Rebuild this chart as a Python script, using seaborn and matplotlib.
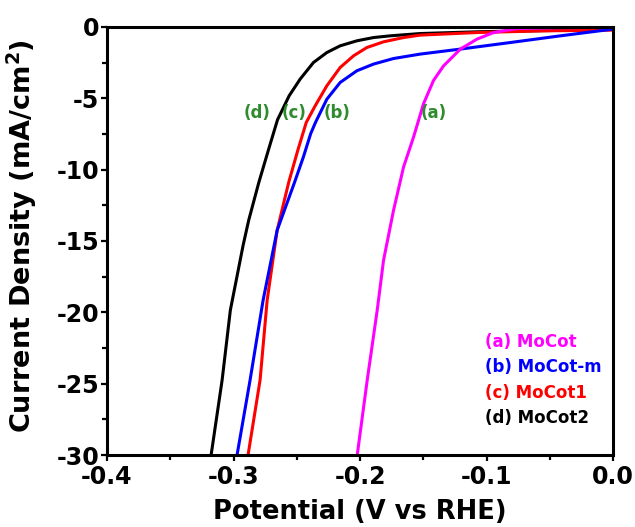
import numpy as np
import pandas as pd
import matplotlib
matplotlib.use('Agg')
import matplotlib.pyplot as plt
from matplotlib.ticker import MultipleLocator
import seaborn as sns

# LSV curves (potential in V vs RHE, current density in mA/cm2)
pot_a = [-0.2022, -0.1943, -0.1864, -0.1814, -0.1735, -0.1656, -0.1577, -0.1498, -0.1419,
         -0.1339, -0.1207, -0.1075, -0.0944, -0.0759, -0.0400, 0.0]
cur_a = [-30.0, -24.75, -19.85, -16.35, -12.85, -9.82, -7.72, -5.38, -3.75,
         -2.72, -1.55, -0.85, -0.39, -0.11, -0.05, -0.02]

pot_b = [-0.2972, -0.2869, -0.2766, -0.2655, -0.2518, -0.2448, -0.2390, -0.2352, -0.2262,
         -0.2157, -0.2025, -0.1893, -0.1735, -0.1524, -0.1207, -0.0812, -0.0416, 0.0]
cur_b = [-30.0, -24.75, -19.15, -14.25, -10.9, -9.12, -7.48, -6.69, -5.06,
         -3.89, -3.07, -2.60, -2.21, -1.90, -1.55, -1.09, -0.62, -0.15]

pot_c = [-0.2885, -0.2790, -0.2734, -0.2655, -0.2564, -0.2492, -0.2425, -0.2354, -0.2262,
         -0.2157, -0.2051, -0.1946, -0.1814, -0.1656, -0.1524, -0.1075, -0.0548, 0.0]
cur_c = [-30.0, -24.75, -19.15, -14.25, -10.9, -8.65, -6.69, -5.52, -4.12,
         -2.84, -2.02, -1.44, -1.04, -0.74, -0.57, -0.39, -0.27, -0.22]

pot_d = [-0.3177, -0.3090, -0.3025, -0.2924, -0.2880, -0.2800, -0.2725, -0.2652, -0.2560,
         -0.2473, -0.2368, -0.2262, -0.2157, -0.2025, -0.1893, -0.1761, -0.1524, -0.1050,
         -0.0500, 0.0]
cur_d = [-30.0, -24.75, -19.85, -15.3, -13.55, -10.9, -8.65, -6.5, -4.82,
         -3.65, -2.49, -1.79, -1.32, -0.97, -0.74, -0.62, -0.46, -0.33,
         -0.25, -0.15]

SAMPLES = ['(a) MoCot', '(b) MoCot-m', '(c) MoCot1', '(d) MoCot2']
COLORS = ['#ff00ff', '#0000ff', '#ff0000', '#000000']
TAGS = ['(a)', '(b)', '(c)', '(d)']
TAG_X = [-0.1415, -0.2182, -0.2522, -0.2814]
TAG_Y = -6.0

frames = []
for name, pot, cur in zip(SAMPLES, [pot_a, pot_b, pot_c, pot_d], [cur_a, cur_b, cur_c, cur_d]):
    frames.append(pd.DataFrame({'Potential': pot, 'Current': cur, 'Sample': name}))
df = pd.concat(frames, ignore_index=True)

sns.set_theme(style='ticks')
plt.rcParams['font.family'] = ['DejaVu Sans']
plt.rcParams['font.weight'] = 'bold'
plt.rcParams['mathtext.default'] = 'bf'
for key in ['text.color', 'axes.labelcolor', 'xtick.color', 'ytick.color', 'axes.edgecolor']:
    plt.rcParams[key] = 'black'

fig = plt.figure(figsize=(6.35, 5.27), dpi=100)
ax = fig.add_axes([0.1685, 0.1366, 0.7969, 0.8122])

# draw d, c, b, a so magenta ends up on top like the reference
order = SAMPLES[::-1]
sns.lineplot(data=df, x='Potential', y='Current', hue='Sample', hue_order=order,
             palette=dict(zip(SAMPLES, COLORS)), sort=False, estimator=None,
             linewidth=2.2, legend=False, ax=ax)

ax.set_xlim(-0.4, 0.0)
ax.set_ylim(-30, 0)
ax.xaxis.set_major_locator(MultipleLocator(0.1))
ax.xaxis.set_minor_locator(MultipleLocator(0.05))
ax.yaxis.set_major_locator(MultipleLocator(5))
ax.yaxis.set_minor_locator(MultipleLocator(2.5))
ax.set_xticks(ax.get_xticks())
ax.set_xticklabels([f'{v:.1f}' for v in ax.get_xticks()])
ax.set_yticks(ax.get_yticks())
ax.set_yticklabels([f'{v:.0f}' for v in ax.get_yticks()])
ax.set_xlim(-0.4, 0.0)
ax.set_ylim(-30, 0)

ax.tick_params(which='major', direction='out', length=4.5, width=1.6, labelsize=17)
ax.tick_params(which='minor', direction='out', length=3.5, width=1.6)
ax.tick_params(axis='x', which='major', pad=3)
ax.tick_params(axis='y', which='major', pad=1)
for lab in ax.get_xticklabels() + ax.get_yticklabels():
    lab.set_fontweight('bold')
for sp in ax.spines.values():
    sp.set_linewidth(2.2)
    sp.set_color('black')
    sp.set_visible(True)

ax.set_xlabel('Potential (V vs RHE)', fontsize=18.5, fontweight='bold')
ax.set_ylabel('Current Density (mA/cm$^2$)', fontsize=19.5, fontweight='bold')
ax.xaxis.label.set_va('center')
ax.yaxis.label.set_va('center')
ax.xaxis.set_label_coords(0.5, -0.133)
ax.yaxis.set_label_coords(-0.168, 0.512)

for tag, tx in zip(TAGS, TAG_X):
    ax.text(tx, TAG_Y, tag, color='#2e8b2e', fontsize=12, fontweight='bold',
            ha='center', va='center')

for i, (name, col) in enumerate(zip(SAMPLES, COLORS)):
    ax.text(0.747, 0.264 - i * 0.059, name, color=col, fontsize=12, fontweight='bold',
            transform=ax.transAxes, ha='left', va='center')

fig.savefig('out.png', dpi=100)
